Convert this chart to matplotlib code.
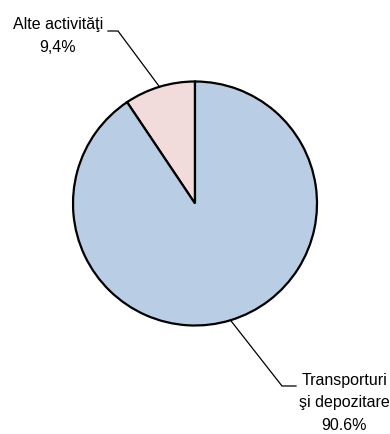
import numpy as np
import matplotlib
matplotlib.use('Agg')
import matplotlib.pyplot as plt

# data
categorii = ['Alte activităţi', 'Transporturi\nşi depozitare']
valori = [9.4, 90.6]
procente = ['9,4%', '90.6%']
culori = ['#f2dcdb', '#b9cde5']

plt.rcParams['font.family'] = ['Liberation Sans', 'DejaVu Sans']

fig = plt.figure(figsize=(3.9, 4.35), dpi=100)
ax = fig.add_axes([0, 0, 1, 1])

# pixel -> data helper (center of pie at 195, 204.5 px, radius 122 px)
R_PX = 122.0
def px(x, y):
    return (x - 195) / R_PX, (204.5 - y) / R_PX

wedges, _ = ax.pie(valori, colors=culori, startangle=90, counterclock=True,
                   wedgeprops=dict(edgecolor='black', linewidth=1.6))

ax.set_xlim(px(0, 0)[0], px(390, 0)[0])
ax.set_ylim(px(0, 435)[1], px(0, 0)[1])
ax.set_aspect('auto')
ax.axis('off')

# leader lines + labels (elbow / end / text positions are layout)
elbows = [px(118, 32), px(282, 387)]
capete = [px(108, 32), px(296, 387)]
texte = [px(58, 36), px(344, 403)]

for w, cat, pct, el, cap, tx in zip(wedges, categorii, procente, elbows, capete, texte):
    mid = np.deg2rad((w.theta1 + w.theta2) / 2)
    x0 = w.center[0] + w.r * np.cos(mid)
    y0 = w.center[1] + w.r * np.sin(mid)
    ax.plot([x0, el[0], cap[0]], [y0, el[1], cap[1]], color='black', lw=0.9,
            solid_joinstyle='miter')
    ax.text(tx[0], tx[1], cat + '\n' + pct, ha='center', va='center',
            multialignment='center', fontsize=11.5, linespacing=1.6)

fig.savefig('out.png', dpi=100)
